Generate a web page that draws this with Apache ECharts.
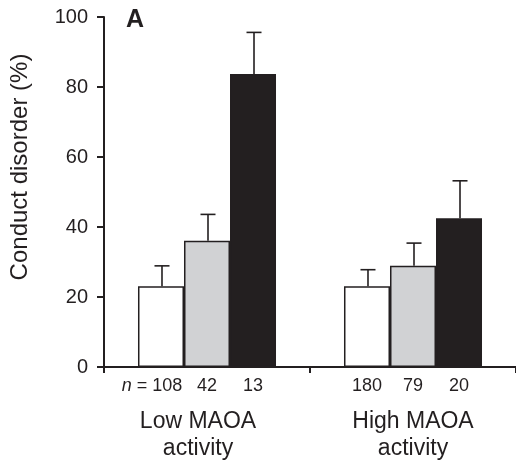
<!DOCTYPE html>
<html>
<head>
<meta charset="utf-8">
<script src="https://cdn.jsdelivr.net/npm/echarts@6/dist/echarts.min.js"></script>
<style>html,body{margin:0;padding:0;background:#fff;}#c{width:516px;height:462px;}</style>
</head>
<body>
<div id="c"></div>
<script>
// ---- data ----
const groups = ['Low MAOA\nactivity', 'High MAOA\nactivity'];
const seriesNames = ['No maltreatment', 'Probable maltreatment', 'Severe maltreatment'];
const noneVals = [23.1, 23.1];
const noneErrTop = [28.9, 27.8];
const probVals = [36.1, 28.9];
const probErrTop = [43.6, 35.4];
const sevVals = [83.7, 42.5];
const sevErrTop = [95.6, 53.2];
const noneN = [108, 180];
const probN = [42, 79];
const sevN = [13, 20];
const yTicks = [0, 20, 40, 60, 80, 100];
const yTitle = 'Conduct disorder (%)';
const panelLabel = 'A';

// ---- build ----
const INK = '#231f20';
const GAP = 0.33;
const vals = [noneVals, probVals, sevVals];
const errs = [noneErrTop, probErrTop, sevErrTop];
const ns = [noneN, probN, sevN];
const fills = ['#ffffff', '#d1d2d4', INK];

const chart = echarts.init(document.getElementById('c'));

const barSeries = vals.map((arr, si) => ({
  name: seriesNames[si],
  type: 'bar',
  barGap: '0%',
  barCategoryGap: (GAP * 100) + '%',
  itemStyle: { color: fills[si], borderColor: INK, borderWidth: 1.5 },
  label: {
    show: true,
    position: 'bottom',
    distance: 10,
    color: INK,
    fontFamily: 'Liberation Sans',
    fontSize: 18,
    formatter: p => (si === 0 && p.dataIndex === 0) ? '{i|n} = ' + ns[si][p.dataIndex] : String(ns[si][p.dataIndex]),
    rich: { i: { fontStyle: 'italic', fontFamily: 'Liberation Sans', fontSize: 18, color: INK } }
  },
  data: arr.map((v, i) => (si === 0 && i === 0) ? { value: v, label: { offset: [-9, 0] } } : v),
  z: 2
}));

const errSeries = errs.map((arr, si) => ({
  type: 'custom',
  z: 3,
  silent: true,
  data: arr.map((e, i) => [i, vals[si][i], e]),
  renderItem: (params, api) => {
    const ci = api.value(0);
    const base = api.coord([ci, api.value(1)]);
    const top = api.coord([ci, api.value(2)]);
    const band = api.size([1, 0])[0];
    const bw = band * (1 - GAP) / 3;
    const x = base[0] + (si - 1) * bw + 1;
    const hw = 7.5;
    return {
      type: 'group',
      children: [
        { type: 'line', shape: { x1: x, y1: base[1], x2: x, y2: top[1] }, style: { stroke: INK, lineWidth: 1.6 } },
        { type: 'line', shape: { x1: x - hw, y1: top[1], x2: x + hw, y2: top[1] }, style: { stroke: INK, lineWidth: 1.6 } }
      ]
    };
  }
}));

chart.setOption({
  animation: false,
  backgroundColor: '#ffffff',
  grid: { left: 101, width: 422, top: 17, height: 350, containLabel: false },
  title: {
    text: panelLabel, left: 121, top: 3,
    textStyle: { fontFamily: 'Liberation Sans', fontWeight: 'bold', fontSize: 25, color: INK }
  },
  xAxis: {
    type: 'category',
    data: groups,
    axisLine: { lineStyle: { color: INK, width: 2 } },
    axisTick: { show: true, length: 6, lineStyle: { color: INK, width: 2 } },
    axisLabel: {
      margin: 41,
      interval: 0,
      color: INK,
      fontFamily: 'Liberation Sans',
      fontSize: 23,
      lineHeight: 27,
      formatter: (v, i) => i === 0 ? '{l|' + v.split('\n').join('}\n{l|') + '}' : v,
      rich: { l: { fontFamily: 'Liberation Sans', fontSize: 23, lineHeight: 27, color: INK, padding: [0, 18, 0, 0] } }
    }
  },
  yAxis: {
    type: 'value',
    min: yTicks[0], max: yTicks[yTicks.length - 1], interval: yTicks[1] - yTicks[0],
    name: yTitle,
    nameLocation: 'middle',
    nameGap: 72,
    nameTextStyle: { fontFamily: 'Liberation Sans', fontSize: 24, color: INK, padding: [0, 0, 0, 50] },
    axisLine: { show: true, lineStyle: { color: INK, width: 2 } },
    axisTick: { show: true, length: 7, lineStyle: { color: INK, width: 2 } },
    axisLabel: { margin: 16, color: INK, fontFamily: 'Liberation Sans', fontSize: 20 },
    splitLine: { show: false }
  },
  series: [...barSeries, ...errSeries]
});
</script>
</body>
</html>
